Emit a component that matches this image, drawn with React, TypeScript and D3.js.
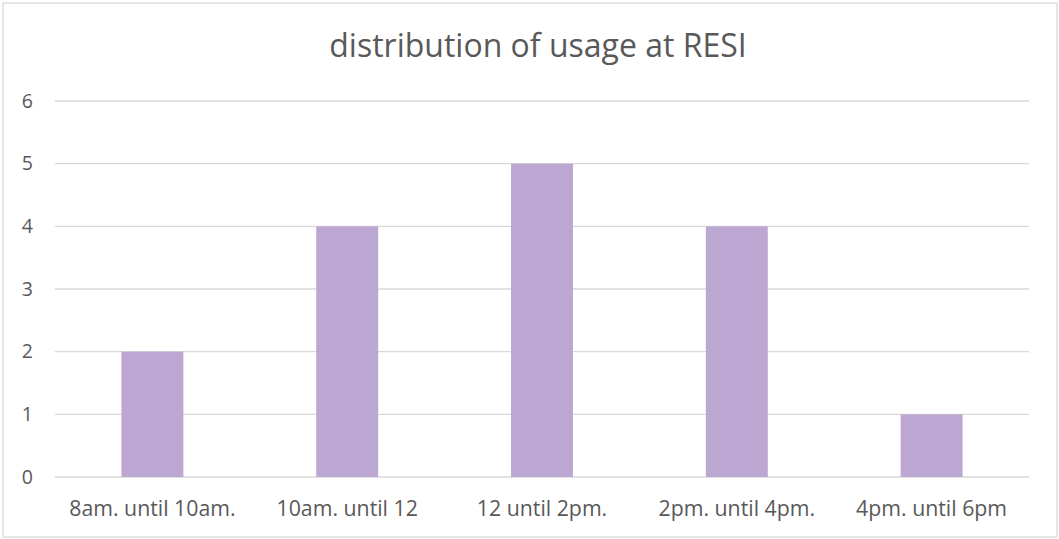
import React from 'react';
import * as d3 from 'd3';

const title = 'distribution of usage at RESI';
const categories = ['8am. until 10am.', '10am. until 12', '12 until 2pm.', '2pm. until 4pm.', '4pm. until 6pm'];
const usage = [2, 4, 5, 4, 1];
const yTicks = [0, 1, 2, 3, 4, 5, 6];

const W = 1059;
const H = 539;
const margin = { top: 101, right: 30, bottom: 62, left: 55 };
const font = '"Open Sans", "Noto Sans", sans-serif';
const textColor = '#595959';

export default function App() {
  const x = d3.scaleBand<string>()
    .domain(categories)
    .range([margin.left, W - margin.right])
    .paddingInner(0.682)
    .paddingOuter(0.341);

  const y = d3.scaleLinear()
    .domain([0, 6])
    .range([H - margin.bottom, margin.top]);

  return (
    <svg width={W} height={H} style={{ position: 'absolute', left: 0, top: 0 }}>
      <rect x={0} y={0} width={W} height={H} fill="#fff" />
      <rect x={3} y={3} width={1054} height={534} fill="none" stroke="#d9d9d9" strokeWidth={1.3} />
      <text x={538} y={57} textAnchor="middle" fontFamily={font} fontSize={32} fill={textColor}>
        {title}
      </text>
      {yTicks.map(t => (
        <g key={t}>
          <line x1={margin.left} x2={W - margin.right} y1={y(t)} y2={y(t)} stroke="#d9d9d9" strokeWidth={1.3} />
          <text x={33} y={y(t)} dy="0.35em" textAnchor="end" fontFamily={font} fontSize={19.5} fill={textColor}>
            {t}
          </text>
        </g>
      ))}
      {categories.map((c, i) => (
        <rect
          key={c}
          x={x(c)}
          y={y(usage[i])}
          width={x.bandwidth()}
          height={y(0) - y(usage[i])}
          fill="#bba7d2"
        />
      ))}
      {categories.map(c => (
        <text key={c} x={(x(c) ?? 0) + x.bandwidth() / 2} y={516} textAnchor="middle" fontFamily={font} fontSize={21.3} fill={textColor}>
          {c}
        </text>
      ))}
    </svg>
  );
}
